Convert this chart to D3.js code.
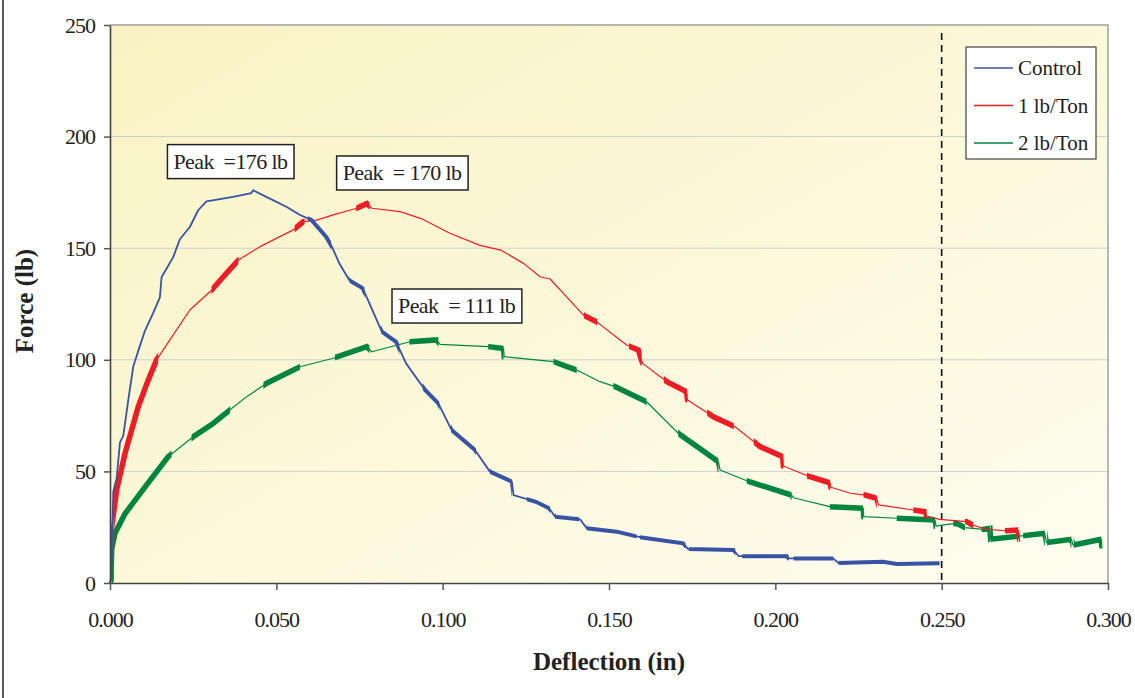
<!DOCTYPE html>
<html>
<head>
<meta charset="utf-8">
<script src="https://cdn.jsdelivr.net/npm/d3@7"></script>
<style>
body { margin: 0; background: #fff; }
text { font-family: "Liberation Serif", "Times New Roman", serif; fill: #222; }
</style>
</head>
<body>
<div id="chart"></div>
<script>
var width = 1135, height = 698;
var plotLeft = 110, plotRight = 1108, plotTop = 25, plotBottom = 583;

// ---- data ----
var seriesNames = ["Control", "1 lb/Ton", "2 lb/Ton"];
var seriesColors = ["#3953a4", "#ee1c25", "#00853f"];

var xTicks = [0, 0.05, 0.10, 0.15, 0.20, 0.25, 0.30];
var yTicks = [0, 50, 100, 150, 200, 250];

var controlPts = [[0,0],[0.0003,2.5],[0.001,41],[0.002,47],[0.003,63],[0.004,66],[0.0055,82],[0.007,97],
  [0.0085,104],[0.0105,113],[0.013,121],[0.015,128],[0.0155,137],[0.019,146],[0.021,154],[0.024,159.5],
  [0.0265,167],[0.029,171],[0.037,173],[0.0425,174.7],[0.043,176],[0.047,173],[0.053,168.6],[0.057,165],
  [0.0606,162.6],[0.065,155],[0.0667,150.7],[0.069,143],[0.072,135.5],[0.076,132],[0.0817,112.6],
  [0.086,108],[0.089,98.4],[0.0947,86.5],[0.0987,80.5],[0.1027,68.5],[0.1097,59.6],[0.1142,49.9],
  [0.1208,45.4],[0.1213,39.4],[0.128,36.4],[0.132,33.5],[0.1338,29.7],[0.1413,28.5],[0.1433,24.5],
  [0.1523,23],[0.1593,20.5],[0.1723,17.8],[0.1738,15.2],[0.1874,14.8],[0.189,12],[0.2035,12],
  [0.204,11],[0.2174,11],[0.2189,9],[0.2324,9.5],[0.2365,8.5],[0.2494,8.8]];
var controlNoise = [[0.0595,0.0665],[0.072,0.0765],[0.0815,0.087],[0.094,0.099],[0.1025,0.110],
  [0.1142,0.1208],[0.1253,0.1323],[0.1338,0.141],[0.1433,0.1583],[0.1593,0.173],[0.174,0.188],
  [0.19,0.204],[0.2055,0.2174],[0.219,0.2494]];

var redPts = [[0,0],[0.0003,1.3],[0.0005,25],[0.002,41.7],[0.0045,58],[0.0085,79],[0.0115,91],[0.014,100],
  [0.018,108.9],[0.024,122.3],[0.0306,131.3],[0.035,138.8],[0.0386,144.7],[0.0451,150.7],[0.0551,158.2],
  [0.0581,161.9],[0.0621,162.6],[0.0671,164.9],[0.0742,167.9],[0.0772,170],[0.0787,167.9],[0.0872,166.4],
  [0.094,163],[0.102,156.8],[0.111,151.4],[0.1177,149],[0.1243,143.2],[0.1293,137.2],[0.1323,136.2],
  [0.1363,129.8],[0.1423,120],[0.1463,117],[0.1553,106.6],[0.1588,104.4],[0.1601,98.4],[0.1674,90.2],
  [0.1733,85.7],[0.1736,82],[0.1814,74.5],[0.1879,70],[0.1954,61.1],[0.2022,56.6],[0.2024,52.4],
  [0.2104,47.6],[0.2164,44.9],[0.2167,42.9],[0.2226,40.2],[0.227,39.4],[0.2305,37.9],[0.231,35],
  [0.2415,32.7],[0.245,31.9],[0.2455,30],[0.2494,28.5],[0.2575,27.5],[0.2593,26],[0.2635,24],
  [0.2695,23.4],[0.273,23.7],[0.2735,18.5]];
var redNoise = [[0.001,0.0145],[0.0305,0.0386],[0.0555,0.0585],[0.074,0.078],[0.1425,0.1465],
  [0.156,0.1598],[0.1665,0.1735],[0.1795,0.1875],[0.1935,0.2024],[0.2095,0.2165],[0.2265,0.2305],
  [0.2415,0.2455],[0.257,0.2595],[0.269,0.273]];

var greenPts = [[0,0],[0.0003,1.3],[0.0005,15],[0.0015,22.3],[0.0045,31],[0.0105,43],[0.0175,56.6],
  [0.025,65.5],[0.031,71.5],[0.036,77.5],[0.0411,83.5],[0.0471,89.5],[0.0571,96.9],[0.0671,100.7],
  [0.0772,105.9],[0.0787,103.6],[0.0902,108.1],[0.0982,108.9],[0.0992,106.9],[0.1137,105.9],
  [0.1183,105.1],[0.1185,101.4],[0.1333,99.2],[0.1403,95.4],[0.1473,90.2],[0.1518,88],[0.1613,81.2],
  [0.1709,67],[0.1829,54.3],[0.1834,50.6],[0.1914,45.8],[0.2049,39.4],[0.2054,38.2],[0.2164,34.2],
  [0.2264,33.5],[0.2266,29.7],[0.2365,29],[0.248,28.2],[0.2483,25.5],[0.2505,26],[0.2545,26.7],
  [0.257,24.8],[0.2625,24],[0.2645,24.5],[0.2647,19.6],[0.2735,21],[0.281,22.3],[0.2815,18.1],
  [0.289,19.6],[0.2895,17],[0.298,19.6],[0.2982,15.5]];
var greenNoise = [[0.0005,0.0185],[0.0245,0.0361],[0.0461,0.0571],[0.0676,0.078],[0.090,0.0987],
  [0.1137,0.1183],[0.1333,0.1403],[0.1513,0.1613],[0.1708,0.1829],[0.1914,0.2049],[0.2164,0.2264],
  [0.2365,0.248],[0.2535,0.257],[0.262,0.2645],[0.2647,0.2735],[0.2745,0.281],[0.2817,0.289],[0.2897,0.298]];

var peakLabels = ["Peak  =176 lb", "Peak  = 170 lb", "Peak  = 111 lb"];
var peakAnchors = [[0.0362, 188.8], [0.0878, 183.7], [0.1042, 124.1]];
var limitX = 0.25;

// ---- chart ----
var svg = d3.select("#chart").append("svg")
    .attr("width", width)
    .attr("height", height);

var x = d3.scaleLinear().domain([0, 0.3]).range([plotLeft, plotRight]);
var y = d3.scaleLinear().domain([0, 250]).range([plotBottom, plotTop]);

var defs = svg.append("defs");
var grad = defs.append("linearGradient").attr("id", "bg")
    .attr("x1", "0").attr("y1", "0").attr("x2", "1").attr("y2", "1");
grad.append("stop").attr("offset", "0%").attr("stop-color", "#f9f3c3");
grad.append("stop").attr("offset", "100%").attr("stop-color", "#fefdf0");

// page border line on the left
svg.append("line")
    .attr("x1", 3).attr("x2", 3).attr("y1", 0).attr("y2", height)
    .attr("stroke", "#222").attr("stroke-width", 1.5);

svg.append("rect")
    .attr("x", plotLeft).attr("y", plotTop)
    .attr("width", plotRight - plotLeft).attr("height", plotBottom - plotTop)
    .attr("fill", "url(#bg)");

// gridlines
svg.append("g").selectAll("line")
    .data(yTicks.filter(d => d > 0 && d < 250))
    .enter().append("line")
    .attr("x1", plotLeft).attr("x2", plotRight)
    .attr("y1", d => y(d)).attr("y2", d => y(d))
    .attr("stroke", "#cfcfcf").attr("stroke-width", 1);

// top / right frame
svg.append("path")
    .attr("d", "M" + plotLeft + "," + plotTop + "H" + plotRight + "V" + plotBottom)
    .attr("fill", "none").attr("stroke", "#a0a0a0").attr("stroke-width", 1.5);

// limit line
svg.append("line")
    .attr("x1", x(limitX)).attr("x2", x(limitX))
    .attr("y1", plotTop + 8).attr("y2", plotBottom)
    .attr("stroke", "#111").attr("stroke-width", 1.6)
    .attr("stroke-dasharray", "7,5");

// curves
var line = d3.line().x(d => x(d[0])).y(d => y(d[1]));
var allPts = [controlPts, redPts, greenPts];
var allNoise = [controlNoise, redNoise, greenNoise];
var clipId = 0;

[2, 1, 0].forEach(function (s) {
    var g = svg.append("g");
    g.append("path")
        .attr("d", line(allPts[s]))
        .attr("fill", "none")
        .attr("stroke", seriesColors[s])
        .attr("stroke-width", s == 0 ? 1.8 : 1.2)
        .attr("stroke-linejoin", "round");

    // thick bands where the trace is noisy
    allNoise[s].forEach(function (r) {
        var id = "nz" + (clipId++);
        defs.append("clipPath").attr("id", id)
            .append("rect")
            .attr("x", x(r[0])).attr("y", 0)
            .attr("width", x(r[1]) - x(r[0])).attr("height", height);
        g.append("path")
            .attr("d", line(allPts[s]))
            .attr("clip-path", "url(#" + id + ")")
            .attr("fill", "none")
            .attr("stroke", seriesColors[s])
            .attr("stroke-width", s == 0 ? 4 : 5.5);
    });
});

// axes
var yAxis = svg.append("g")
    .attr("transform", "translate(" + plotLeft + ",0)")
    .call(d3.axisLeft(y).tickValues(yTicks).tickSize(6).tickSizeOuter(0).tickPadding(9).tickFormat(d3.format("d")));

var xAxis = svg.append("g")
    .attr("transform", "translate(0," + plotBottom + ")")
    .call(d3.axisBottom(x).tickValues(xTicks).tickSize(7).tickSizeOuter(0).tickPadding(21).tickFormat(d3.format(".3f")));

[yAxis, xAxis].forEach(function (a) {
    a.select(".domain").attr("stroke", "#444").attr("stroke-width", 1.6);
    a.selectAll(".tick line").attr("stroke", "#555").attr("stroke-width", 1.5);
    a.selectAll(".tick text")
        .attr("fill", "#222")
        .style("font-family", "'Liberation Serif', serif")
        .style("font-size", "22px")
        .style("letter-spacing", "-1px");
});

// axis titles
svg.append("text")
    .attr("transform", "translate(33,301) rotate(-90)")
    .attr("text-anchor", "middle")
    .style("font-size", "25px")
    .style("font-weight", "bold")
    .text("Force (lb)");

svg.append("text")
    .attr("x", 609).attr("y", 670)
    .attr("text-anchor", "middle")
    .style("font-size", "25px")
    .style("font-weight", "bold")
    .text("Deflection (in)");

// peak annotations
peakLabels.forEach(function (lbl, i) {
    var cx = x(peakAnchors[i][0]), cy = y(peakAnchors[i][1]);
    var g = svg.append("g");
    var box = g.append("rect");
    var t = g.append("text")
        .attr("x", cx).attr("y", cy + 7)
        .attr("text-anchor", "middle")
        .style("font-size", "22px")
        .style("letter-spacing", "-0.6px")
        .style("white-space", "pre")
        .text(lbl);
    var bb = t.node().getBBox();
    box.attr("x", bb.x - 6).attr("y", cy - 17)
        .attr("width", bb.width + 12).attr("height", 34)
        .attr("fill", "#fff").attr("stroke", "#222").attr("stroke-width", 1.5);
});

// legend
var legend = svg.append("g");
legend.append("rect")
    .attr("x", 966).attr("y", 47).attr("width", 130).attr("height", 112)
    .attr("fill", "#fff").attr("stroke", "#444").attr("stroke-width", 1.2);

var items = legend.selectAll("g.item")
    .data(seriesNames)
    .enter().append("g")
    .attr("class", "item")
    .attr("transform", (d, i) => "translate(0," + (68 + i * 37.5) + ")");

items.append("line")
    .attr("x1", 974).attr("x2", 1013)
    .attr("stroke", (d, i) => seriesColors[i])
    .attr("stroke-width", 1.6);

items.append("text")
    .attr("x", 1018).attr("y", 7)
    .style("font-size", "21px")
    .text(d => d);
</script>
</body>
</html>
